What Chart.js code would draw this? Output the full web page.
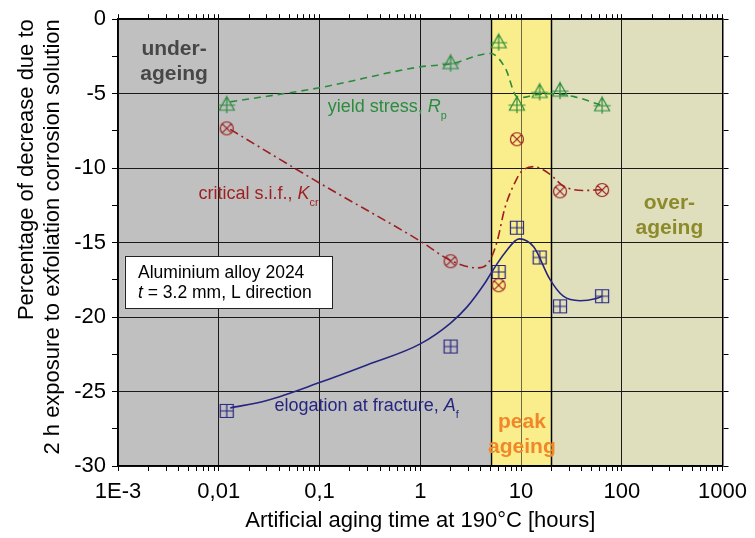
<!DOCTYPE html>
<html>
<head>
<meta charset="utf-8">
<script src="https://cdn.jsdelivr.net/npm/chart.js@4.4.0/dist/chart.umd.min.js"></script>
<style>
  html, body { margin: 0; padding: 0; background: #fff; }
</style>
</head>
<body>
<canvas id="agingChart" width="755" height="538"></canvas>
<script>
// ---- measured points (aging time in hours, % decrease) ----
const yieldHours  = [0.012, 2, 6, 9.1, 15.3, 24.4, 63.8];
const yieldValues = [-5.77, -2.98, -1.58, -5.77, -4.92, -4.83, -5.81];

const kcrHours  = [0.012, 2, 6, 9.1, 24.4, 63.8];
const kcrValues = [-7.33, -16.25, -17.86, -8.06, -11.56, -11.47];

const afHours  = [0.012, 2, 6, 9.1, 15.3, 24.4, 63.8];
const afValues = [-26.3, -21.98, -16.97, -14.0, -16.0, -19.28, -18.6];

// ---- fitted trend curves ----
const yieldCurveHours  = [0.013, 0.1, 1, 2, 5, 7, 9.1, 10.4, 13.4, 19.2, 33.6, 55.7, 63.8];
const yieldCurveValues = [-5.55, -4.6, -3.2, -3.0, -2.3, -3.3, -5.2, -5.25, -5.1, -5.0, -5.2, -5.66, -5.8];

const kcrCurveHours  = [0.013, 0.1, 1, 2, 3.7, 4.8, 5.8, 6.9, 9.1, 10.2, 13.4, 19.3, 26.3, 41, 63.8];
const kcrCurveValues = [-7.4, -11.0, -14.9, -16.2, -16.7, -16.3, -14.9, -12.7, -10.7, -10.2, -9.9, -10.4, -11.2, -11.5, -11.45];

const afCurveHours  = [0.013, 0.03, 0.1, 0.3, 1, 2, 2.93, 4.3, 5.1, 6.9, 9.6, 13.4, 19.3, 26.3, 38.5, 55.7, 63.8];
const afCurveValues = [-26.1, -25.6, -24.4, -23.2, -21.8, -20.4, -19.3, -17.8, -17.0, -15.7, -14.75, -15.3, -17.45, -18.6, -18.9, -18.75, -18.6];

// ---- axis ticks ----
const decadeTicks = [0.001, 0.01, 0.1, 1, 10, 100, 1000];
const xTickLabels = ['1E-3', '0,01', '0,1', '1', '10', '100', '1000'];

// ---- ageing regions ----
const regionStart  = [0.001, 5, 20];
const regionEnd    = [5, 20, 1000];
const regionColors = ['#c0c0c0', '#f9ee8b', '#e0dfbd'];

const FONT = '"Liberation Sans", Arial, sans-serif';
const GREEN = '#2b8c3c', RED = '#9e1f1f', NAVY = '#262680';

function pairs(xs, ys) {
    return xs.map((x, i) => ({ x: x, y: ys[i] }));
}

function isDecade(v) {
    return Math.abs(Math.log10(v) - Math.round(Math.log10(v))) < 1e-6;
}

// 自己画的标记：三角+十字，圆+叉，方块+十字
function makeMarker(kind, color) {
    const c = document.createElement('canvas');
    c.width = 22; c.height = 22;
    const g = c.getContext('2d');
    const m = 11;
    g.strokeStyle = color;
    g.lineWidth = 1.2;
    g.beginPath();
    if (kind === 'triangle') {
        g.moveTo(m, m - 8.5); g.lineTo(m + 7.5, m + 5); g.lineTo(m - 7.5, m + 5); g.closePath();
        g.moveTo(m - 8.5, m); g.lineTo(m + 8.5, m);
        g.moveTo(m, m - 9.5); g.lineTo(m, m + 8);
    } else if (kind === 'circle') {
        g.arc(m, m, 6.5, 0, Math.PI * 2);
        g.moveTo(m - 4.6, m - 4.6); g.lineTo(m + 4.6, m + 4.6);
        g.moveTo(m + 4.6, m - 4.6); g.lineTo(m - 4.6, m + 4.6);
    } else {
        g.rect(m - 6.5, m - 6.5, 13, 13);
        g.moveTo(m - 6.5, m); g.lineTo(m + 6.5, m);
        g.moveTo(m, m - 6.5); g.lineTo(m, m + 6.5);
    }
    g.stroke();
    return c;
}

// 文字：支持斜体和下标
function richText(ctx, x, y, parts, size, color) {
    let cx = x;
    ctx.fillStyle = color;
    ctx.textAlign = 'left';
    ctx.textBaseline = 'alphabetic';
    parts.forEach(p => {
        const fs = p.sub ? size * 0.6 : size;
        ctx.font = (p.italic ? 'italic ' : '') + fs + 'px ' + FONT;
        ctx.fillText(p.t, cx, y + (p.sub ? size * 0.38 : 0));
        cx += ctx.measureText(p.t).width;
    });
}

function boldCentered(ctx, text, x, y, color) {
    ctx.font = 'bold 21px ' + FONT;
    ctx.fillStyle = color;
    ctx.textAlign = 'center';
    ctx.textBaseline = 'alphabetic';
    ctx.fillText(text, x, y);
}

const backdrop = {
    id: 'backdrop',
    beforeDraw(chart) {
        const { ctx, chartArea: a, scales: { x } } = chart;
        ctx.save();
        ctx.fillStyle = '#fff';
        ctx.fillRect(0, 0, chart.width, chart.height);
        regionStart.forEach((s, i) => {
            const x0 = x.getPixelForValue(s), x1 = x.getPixelForValue(regionEnd[i]);
            ctx.fillStyle = regionColors[i];
            ctx.fillRect(x0, a.top, x1 - x0, a.bottom - a.top);
        });
        ctx.restore();
    },
    beforeDatasetsDraw(chart) {
        const { ctx, chartArea: a, scales: { x, y } } = chart;
        ctx.save();
        // 区域分界线
        ctx.strokeStyle = '#000';
        ctx.lineWidth = 1.5;
        [regionStart[1], regionStart[2]].forEach(v => {
            const px = Math.round(x.getPixelForValue(v)) + 0.5;
            ctx.beginPath(); ctx.moveTo(px, a.top); ctx.lineTo(px, a.bottom); ctx.stroke();
        });
        // 说明框
        const bx0 = x.getPixelForValue(0.00117), bx1 = x.getPixelForValue(0.134);
        const by0 = y.getPixelForValue(-15.9), by1 = y.getPixelForValue(-19.41);
        ctx.fillStyle = '#fff';
        ctx.fillRect(bx0, by0, bx1 - bx0, by1 - by0);
        ctx.strokeStyle = '#222';
        ctx.lineWidth = 1;
        ctx.strokeRect(Math.round(bx0) + 0.5, Math.round(by0) + 0.5, Math.round(bx1 - bx0), Math.round(by1 - by0));
        const tx = x.getPixelForValue(0.00158);
        richText(ctx, tx, y.getPixelForValue(-17.35), [{ t: 'Aluminium alloy 2024' }], 17.5, '#000');
        richText(ctx, tx, y.getPixelForValue(-18.69), [{ t: 't', italic: true }, { t: ' = 3.2 mm, L direction' }], 17.5, '#000');
        ctx.restore();
    },
    afterDatasetsDraw(chart) {
        const { ctx, scales: { x, y } } = chart;
        ctx.save();
        boldCentered(ctx, 'under-', x.getPixelForValue(0.0036), y.getPixelForValue(-2.4), '#474747');
        boldCentered(ctx, 'ageing', x.getPixelForValue(0.0036), y.getPixelForValue(-4.1), '#474747');
        boldCentered(ctx, 'peak', x.getPixelForValue(10.2), y.getPixelForValue(-27.46), '#f0882a');
        boldCentered(ctx, 'ageing', x.getPixelForValue(10.2), y.getPixelForValue(-29.13), '#f0882a');
        boldCentered(ctx, 'over-', x.getPixelForValue(297), y.getPixelForValue(-12.76), '#8c8a2a');
        boldCentered(ctx, 'ageing', x.getPixelForValue(297), y.getPixelForValue(-14.43), '#8c8a2a');

        richText(ctx, x.getPixelForValue(0.1208), y.getPixelForValue(-6.21),
            [{ t: 'yield stress, ' }, { t: 'R', italic: true }, { t: 'p', sub: true }], 18, GREEN);
        richText(ctx, x.getPixelForValue(0.00629), y.getPixelForValue(-12.05),
            [{ t: 'critical s.i.f., ' }, { t: 'K', italic: true }, { t: 'cr', sub: true }], 18, RED);
        richText(ctx, x.getPixelForValue(0.0358), y.getPixelForValue(-26.3),
            [{ t: 'elogation at fracture, ' }, { t: 'A', italic: true }, { t: 'f', sub: true }], 18, NAVY);
        ctx.restore();
    }
};

function logTicks(scale) {
    const list = [];
    decadeTicks.forEach(d => {
        for (let k = 1; k <= 9; k++) {
            const v = d * k;
            if (v <= 1000) list.push({ value: v, major: k === 1 });
        }
    });
    scale.ticks = list;
}

const gridX = {
    color: ctx => {
        if (!ctx.tick || !isDecade(ctx.tick.value)) return 'rgba(0,0,0,0)';
        return Math.abs(ctx.tick.value - 10) < 1e-6 ? '#6f6a45' : '#1a1a1a';
    },
    tickColor: '#000',
    tickLength: 5,
    lineWidth: 1
};
const gridY = {
    color: ctx => (ctx.tick && ctx.tick.value % 5 === 0) ? '#1a1a1a' : 'rgba(0,0,0,0)',
    tickColor: '#000',
    tickLength: 6,
    lineWidth: 1
};
const borderOpt = { display: true, color: '#000', width: 1.5 };

const ctx = document.getElementById('agingChart').getContext('2d');
const agingChart = new Chart(ctx, {
    type: 'scatter',
    data: {
        datasets: [
            { data: pairs(yieldCurveHours, yieldCurveValues), showLine: true, borderColor: GREEN, borderWidth: 1.6, borderDash: [7, 5], pointRadius: 0, cubicInterpolationMode: 'monotone' },
            { data: pairs(kcrCurveHours, kcrCurveValues), showLine: true, borderColor: RED, borderWidth: 1.6, borderDash: [9, 4, 2, 4], pointRadius: 0, cubicInterpolationMode: 'monotone' },
            { data: pairs(afCurveHours, afCurveValues), showLine: true, borderColor: NAVY, borderWidth: 1.6, pointRadius: 0, cubicInterpolationMode: 'monotone' },
            { data: pairs(yieldHours, yieldValues), pointStyle: makeMarker('triangle', GREEN), pointRadius: 8 },
            { data: pairs(kcrHours, kcrValues), pointStyle: makeMarker('circle', RED), pointRadius: 8 },
            { data: pairs(afHours, afValues), pointStyle: makeMarker('square', NAVY), pointRadius: 8 }
        ]
    },
    plugins: [backdrop],
    options: {
        responsive: false,
        animation: false,
        devicePixelRatio: 1,
        layout: { padding: 0 },
        plugins: { legend: { display: false }, tooltip: { enabled: false } },
        scales: {
            x: {
                type: 'logarithmic', position: 'bottom', min: 0.001, max: 1000,
                afterBuildTicks: logTicks,
                afterFit: s => { s.height = 72; },
                grid: gridX, border: borderOpt,
                ticks: {
                    autoSkip: false, maxRotation: 0, padding: 8, color: '#000',
                    font: { family: FONT, size: 22 },
                    callback: v => isDecade(v) ? xTickLabels[decadeTicks.findIndex(d => Math.abs(d - v) < d * 1e-6)] : ''
                },
                title: {
                    display: true, text: 'Artificial aging time at 190°C [hours]', color: '#000',
                    font: { family: FONT, size: 22, lineHeight: '26px' }, padding: { top: 0, bottom: 4 }
                }
            },
            x2: {
                type: 'logarithmic', position: 'top', min: 0.001, max: 1000,
                afterBuildTicks: logTicks,
                afterFit: s => { s.height = 17; },
                grid: { drawOnChartArea: false, tickColor: '#000', tickLength: 5 }, border: borderOpt,
                ticks: { autoSkip: false, maxRotation: 0, callback: () => '' }
            },
            y: {
                type: 'linear', position: 'left', min: -30, max: 0,
                afterFit: s => { s.width = 118; },
                grid: gridY, border: borderOpt,
                ticks: {
                    stepSize: 2.5, padding: 6, color: '#000',
                    font: { family: FONT, size: 22 },
                    callback: v => (v % 5 === 0) ? String(v) : ''
                },
                title: {
                    display: true, align: 'end', color: '#000',
                    text: ['Percentage of decrease due to', '2 h exposure to exfoliation corrosion solution'],
                    font: { family: FONT, size: 22, lineHeight: '26px' }, padding: { top: 14, bottom: 0 }
                }
            },
            y2: {
                type: 'linear', position: 'right', min: -30, max: 0,
                afterFit: s => { s.width = 28; },
                grid: { drawOnChartArea: false, tickColor: '#000', tickLength: 6 }, border: borderOpt,
                ticks: { stepSize: 2.5, callback: () => '' }
            }
        }
    }
});
</script>
</body>
</html>
